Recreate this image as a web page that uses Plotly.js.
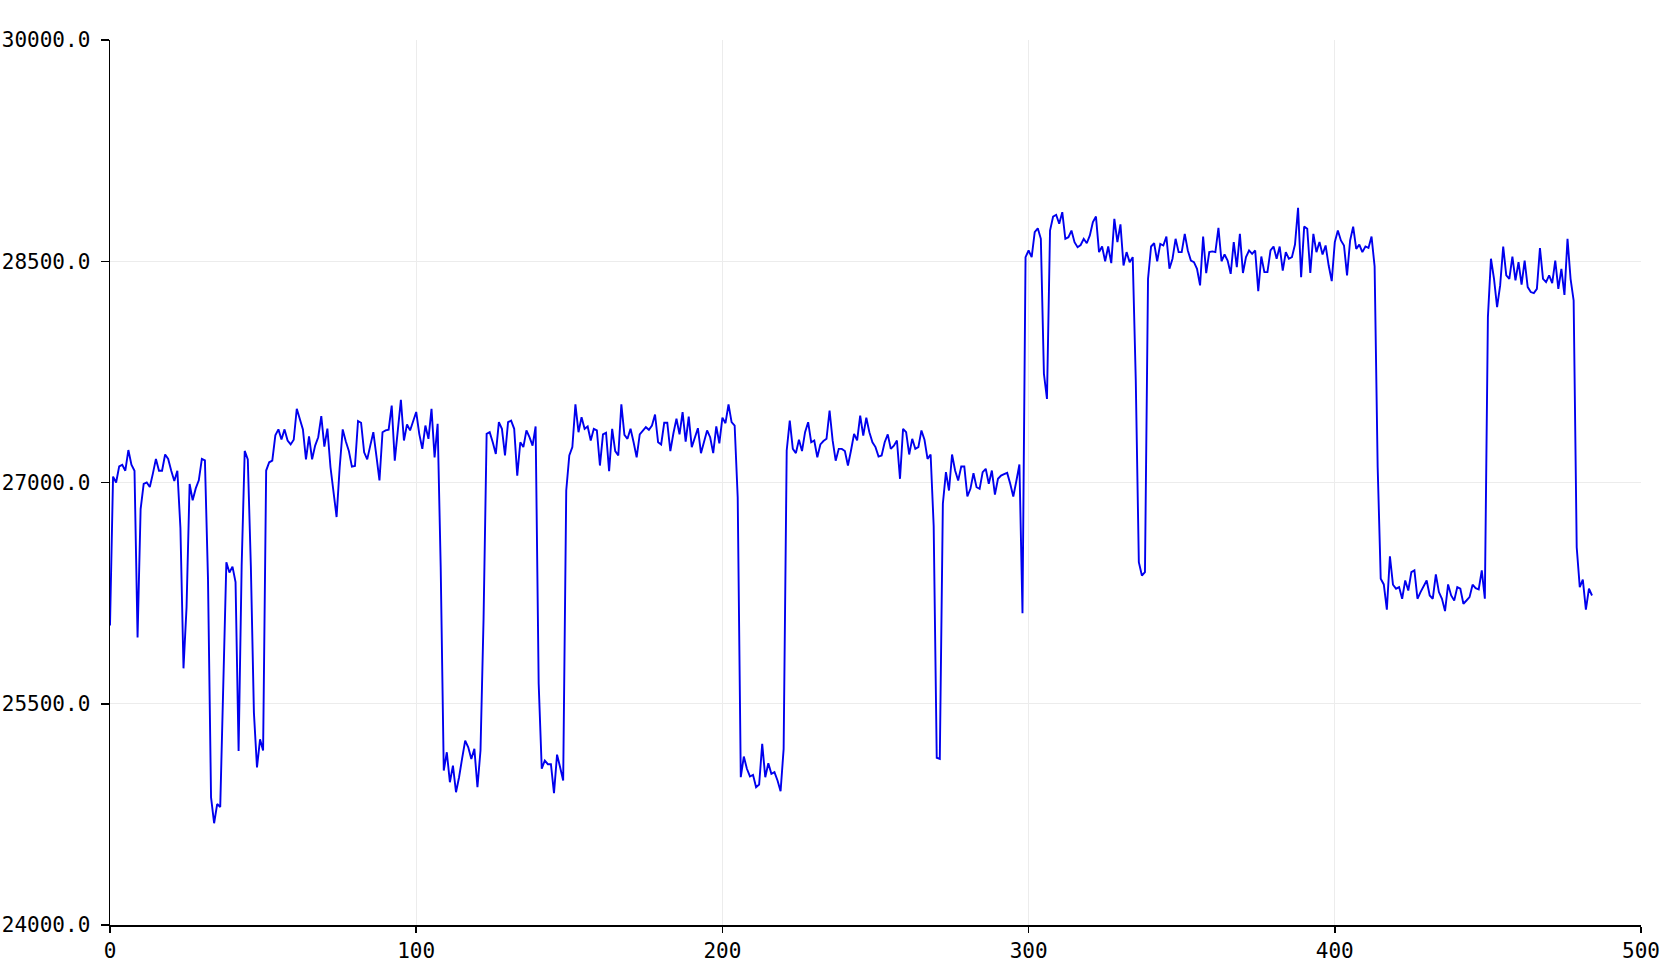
<!DOCTYPE html>
<html>
<head>
<meta charset="utf-8">
<script src="https://cdn.plot.ly/plotly-3.0.1.min.js"></script>
<style>html,body{margin:0;padding:0;background:#fff;}#chart{width:1674px;height:974px;}</style>
</head>
<body>
<div id="chart"></div>
<script>
// Sample readings (one per index 0..484)
const readings = [
26030, 27040, 27000, 27110, 27120, 27080, 27220, 27120, 27080, 25950,
26820, 26990, 27000, 26970, 27060, 27160, 27080, 27080, 27190, 27160,
27080, 27010, 27080, 26690, 25740, 26155, 26990, 26880, 26960, 27015,
27160, 27150, 26350, 24865, 24690, 24820, 24800, 25730, 26460, 26390,
26430, 26325, 25180, 26440, 27214, 27157, 26434, 25440, 25068, 25259,
25183, 27081, 27137, 27148, 27320, 27360, 27292, 27360, 27285, 27258,
27290, 27500, 27430, 27360, 27157, 27312, 27157, 27250, 27307, 27450,
27243, 27365, 27105, 26931, 26766, 27100, 27360, 27280, 27214, 27108,
27112, 27417, 27405, 27205, 27157, 27250, 27341, 27180, 27014, 27341,
27353, 27358, 27522, 27148, 27350, 27560, 27285, 27394, 27353, 27420,
27478, 27330, 27228, 27386, 27296, 27500, 27170, 27398, 26426, 25047,
25171, 24968, 25081, 24900, 25002, 25130, 25250, 25205, 25126, 25194,
24934, 25183, 26076, 27330, 27341, 27273, 27194, 27409, 27364, 27183,
27409, 27420, 27364, 27047, 27273, 27240, 27353, 27307, 27250, 27380,
25636, 25060, 25115, 25090, 25090, 24894, 25155, 25070, 24980, 26946,
27183, 27240, 27530, 27341, 27443, 27364, 27380, 27285, 27364, 27353,
27115, 27326, 27337, 27077, 27364, 27213, 27183, 27530, 27323, 27296,
27364, 27273, 27171, 27326, 27350, 27375, 27357, 27386, 27461, 27273,
27258, 27405, 27405, 27213, 27334, 27432, 27326, 27477, 27277, 27447,
27240, 27300, 27368, 27199, 27280, 27353, 27307, 27199, 27380, 27266,
27440, 27402, 27530, 27409, 27386, 26900, 25002, 25142, 25059, 25007,
25018, 24934, 24952, 25228, 25002, 25097, 25025, 25036, 24980, 24907,
25194, 27217, 27420, 27228, 27199, 27290, 27213, 27341, 27409, 27273,
27285, 27171, 27258, 27281, 27296, 27488, 27285, 27148, 27228, 27228,
27213, 27115, 27217, 27330, 27285, 27454, 27318, 27439, 27341, 27273,
27240, 27176, 27183, 27273, 27326, 27228, 27250, 27285, 27025, 27364,
27341, 27190, 27296, 27228, 27240, 27353, 27290, 27160, 27190, 26705,
25134, 25126, 26856, 27070, 26946, 27190, 27081, 27013, 27108, 27108,
26905, 26957, 27063, 26968, 26957, 27070, 27093, 26991, 27081, 26918,
27025, 27047, 27056, 27065, 26991, 26905, 27010, 27122, 26114, 28528,
28573, 28528, 28697, 28724, 28652, 27737, 27567, 28708, 28803, 28815,
28754, 28833, 28652, 28663, 28708, 28629, 28595, 28610, 28652, 28622,
28675, 28765, 28803, 28562, 28600, 28500, 28600, 28487, 28788, 28630,
28750, 28471, 28562, 28494, 28528, 27692, 26460, 26369, 26392, 28381,
28600, 28622, 28500, 28618, 28607, 28667, 28449, 28517, 28652, 28562,
28562, 28686, 28573, 28505, 28494, 28449, 28336, 28667, 28420, 28562,
28567, 28562, 28727, 28500, 28546, 28505, 28415, 28630, 28460, 28686,
28420, 28528, 28573, 28550, 28573, 28297, 28532, 28426, 28426, 28573,
28600, 28517, 28600, 28437, 28562, 28517, 28528, 28613, 28862, 28392,
28735, 28720, 28420, 28686, 28562, 28630, 28546, 28607, 28471, 28365,
28630, 28708, 28641, 28607, 28404, 28641, 28735, 28584, 28613, 28562,
28600, 28590, 28667, 28465, 27104, 26347, 26309, 26138, 26500, 26307,
26280, 26291, 26212, 26336, 26268, 26392, 26404, 26212, 26257, 26295,
26336, 26234, 26212, 26377, 26257, 26212, 26128, 26309, 26234, 26200,
26291, 26280, 26178, 26200, 26223, 26307, 26284, 26275, 26404, 26212,
28121, 28517, 28381, 28189, 28336, 28600, 28404, 28381, 28532, 28370,
28494, 28341, 28505, 28325, 28291, 28284, 28313, 28590, 28381, 28359,
28404, 28352, 28505, 28313, 28449, 28272, 28652, 28381, 28234, 26561,
26291, 26341, 26138, 26280, 26234
];
const sampleIndex = readings.map((_, i) => i);
const xTicks = [0, 100, 200, 300, 400, 500];
const yTicks = [24000, 25500, 27000, 28500, 30000];

const trace = {
  x: sampleIndex,
  y: readings,
  type: 'scatter',
  mode: 'lines',
  line: {color: '#0000ee', width: 1.9},
  hoverinfo: 'x+y'
};

const axisFont = {family: 'DejaVu Sans Mono, monospace', size: 21, color: '#000'};

const layout = {
  width: 1674,
  height: 974,
  margin: {l: 110, r: 33, t: 40, b: 49, pad: 0},
  paper_bgcolor: '#fff',
  plot_bgcolor: '#fff',
  showlegend: false,
  xaxis: {
    range: [0, 500],
    tickvals: xTicks,
    ticktext: xTicks.map(String),
    showline: true, linecolor: '#000', linewidth: 1.5,
    ticks: 'outside', ticklen: 6, tickwidth: 1.5, tickcolor: '#000',
    showgrid: true, gridcolor: '#ececec', gridwidth: 1,
    zeroline: false,
    tickfont: axisFont
  },
  yaxis: {
    range: [24000, 30000],
    tickvals: yTicks,
    ticktext: yTicks.map(v => v.toFixed(1)),
    showline: true, linecolor: '#000', linewidth: 1.5,
    ticks: 'outside', ticklen: 8, tickwidth: 1.5, tickcolor: '#000',
    ticklabelstandoff: 6,
    showgrid: true, gridcolor: '#ececec', gridwidth: 1,
    zeroline: false,
    tickfont: axisFont
  }
};

Plotly.newPlot('chart', [trace], layout, {displayModeBar: false, staticPlot: true});
</script>
</body>
</html>
